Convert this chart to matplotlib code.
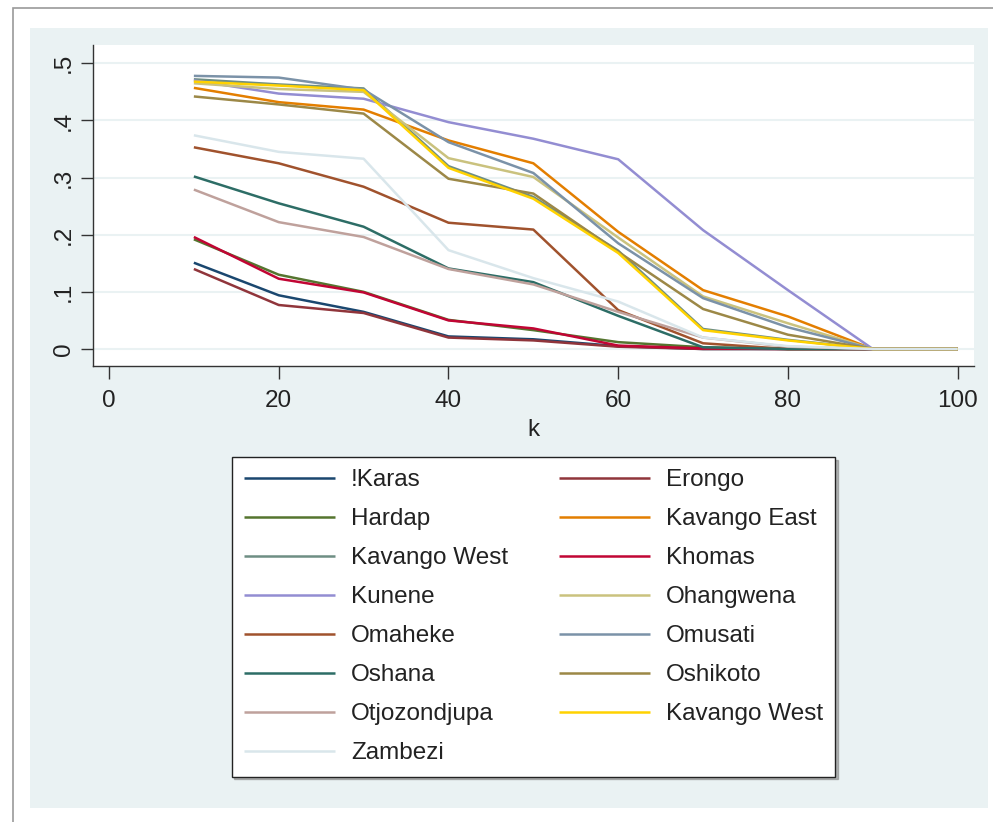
import matplotlib
matplotlib.use("Agg")
import matplotlib.pyplot as plt
from matplotlib.patches import Rectangle

plt.rcParams['font.family'] = ['Liberation Sans', 'DejaVu Sans']

# Share of population below threshold, by region, for k = 10..100
k = [10, 20, 30, 40, 50, 60, 70, 80, 90, 100]

regions = ["!Karas", "Erongo", "Hardap", "Kavango East", "Kavango West",
           "Khomas", "Kunene", "Ohangwena", "Omaheke", "Omusati",
           "Oshana", "Oshikoto", "Otjozondjupa", "Kavango West", "Zambezi"]

karas        = [0.151, 0.094, 0.065, 0.022, 0.017, 0.005, 0.000, 0.000, 0.0, 0.0]
erongo       = [0.140, 0.077, 0.063, 0.020, 0.015, 0.004, 0.000, 0.000, 0.0, 0.0]
hardap       = [0.192, 0.130, 0.100, 0.051, 0.033, 0.012, 0.003, 0.000, 0.0, 0.0]
kavango_east = [0.457, 0.432, 0.419, 0.365, 0.325, 0.205, 0.103, 0.057, 0.0, 0.0]
kavango_west = [0.472, 0.463, 0.456, 0.320, 0.266, 0.172, 0.035, 0.016, 0.0, 0.0]
khomas       = [0.196, 0.123, 0.099, 0.050, 0.036, 0.006, 0.001, 0.000, 0.0, 0.0]
kunene       = [0.470, 0.447, 0.438, 0.397, 0.368, 0.332, 0.208, 0.103, 0.0, 0.0]
ohangwena    = [0.465, 0.455, 0.450, 0.334, 0.301, 0.195, 0.092, 0.045, 0.0, 0.0]
omaheke      = [0.353, 0.325, 0.284, 0.221, 0.209, 0.068, 0.010, 0.000, 0.0, 0.0]
omusati      = [0.478, 0.475, 0.454, 0.362, 0.308, 0.185, 0.089, 0.038, 0.0, 0.0]
oshana       = [0.302, 0.255, 0.214, 0.141, 0.117, 0.058, 0.003, 0.000, 0.0, 0.0]
oshikoto     = [0.442, 0.428, 0.412, 0.298, 0.272, 0.170, 0.070, 0.025, 0.0, 0.0]
otjozondjupa = [0.279, 0.222, 0.196, 0.140, 0.113, 0.065, 0.020, 0.004, 0.0, 0.0]
kavango_w2   = [0.468, 0.461, 0.453, 0.317, 0.263, 0.168, 0.033, 0.015, 0.0, 0.0]
zambezi      = [0.374, 0.345, 0.333, 0.173, 0.124, 0.083, 0.020, 0.005, 0.0, 0.0]

series = [karas, erongo, hardap, kavango_east, kavango_west, khomas, kunene,
          ohangwena, omaheke, omusati, oshana, oshikoto, otjozondjupa,
          kavango_w2, zambezi]

colors = ["#1a476f", "#90353b", "#55752f", "#e37e00", "#6e8e84",
          "#c10534", "#938dd2", "#cac27e", "#a0522d", "#7b92a8",
          "#2d6d66", "#9c8847", "#bfa19c", "#ffd200", "#d9e6eb"]

yticks = [0, 0.1, 0.2, 0.3, 0.4, 0.5]
ytick_labels = ["0", ".1", ".2", ".3", ".4", ".5"]
xticks = [0, 20, 40, 60, 80, 100]

FS = 17.5
W, H = 993, 822
fig = plt.figure(figsize=(W / 100, H / 100), dpi=100)
fig.patch.set_facecolor("white")

def px(x0, y0, x1, y1):
    """Pixel box (top-left origin) -> figure-fraction rectangle args."""
    return (x0 / W, 1 - y1 / H), (x1 - x0) / W, (y1 - y0) / H

# outer frame and shaded graph region
(xy, w, h) = px(13, 8, 1000, 830)
fig.patches.append(Rectangle(xy, w, h, transform=fig.transFigure,
                             facecolor="white", edgecolor="#9a9a9a", lw=1.2, zorder=-3))
(xy, w, h) = px(30, 28, 988, 808)
fig.patches.append(Rectangle(xy, w, h, transform=fig.transFigure,
                             facecolor="#eaf2f3", edgecolor="none", zorder=-2))

ax_l, ax_t, ax_r, ax_b = 93, 45, 974, 366
ax = fig.add_axes([ax_l / W, 1 - ax_b / H, (ax_r - ax_l) / W, (ax_b - ax_t) / H])
ax.set_zorder(1)
ax.set_facecolor("white")

handles = []
for name, vals, c in zip(regions, series, colors):
    ln, = ax.plot(k, vals, color=c, lw=1.8, label=name, solid_capstyle="butt")
    handles.append(ln)

# y mapping: 0 at px 349, .5 at px 63.3
y0_px, y5_px = 349.0, 63.3
per = (y0_px - y5_px) / 0.5
ax.set_ylim((y0_px - ax_b) / per, (y0_px - ax_t) / per)
x0_px, x100_px = 109.0, 957.7
perx = (x100_px - x0_px) / 100
ax.set_xlim((ax_l - x0_px) / perx, (ax_r - x0_px) / perx)

ax.set_yticks(yticks)
ax.set_yticklabels(ytick_labels, rotation=90, va="center", fontsize=FS)
ax.set_xticks(xticks)
ax.set_xticklabels([str(t) for t in xticks], fontsize=FS)
ax.yaxis.grid(True, color="#eaf2f3", lw=1.5)
ax.set_axisbelow(True)
for s in ["top", "right"]:
    ax.spines[s].set_visible(False)
for s in ["left", "bottom"]:
    ax.spines[s].set_color("#333333")
    ax.spines[s].set_linewidth(1.0)
ax.tick_params(axis="both", length=9, width=1.0, color="#333333", labelcolor="#222222")
ax.tick_params(axis="x", pad=8)
ax.tick_params(axis="y", pad=4)
ax.set_xlabel("k", fontsize=FS, color="#222222", labelpad=5)

# legend in row-major order, two columns
order = list(range(0, 15, 2)) + list(range(1, 15, 2))
leg = fig.legend([handles[i] for i in order], [regions[i] for i in order],
                 ncol=2, loc="upper center",
                 bbox_to_anchor=(533.5 / W, 1 - 457 / H),
                 fontsize=FS, frameon=True, fancybox=False,
                 edgecolor="#222222", facecolor="white", framealpha=1,
                 shadow={"color": "#888888", "alpha": 0.6},
                 handlelength=3.75, handletextpad=0.66, columnspacing=2.1,
                 labelspacing=0.7, borderpad=0.5, borderaxespad=0)
leg.set_zorder(2)
leg.get_frame().set_linewidth(1.0)
for t in leg.get_texts():
    t.set_color("#222222")

fig.savefig("out.png", dpi=100)
